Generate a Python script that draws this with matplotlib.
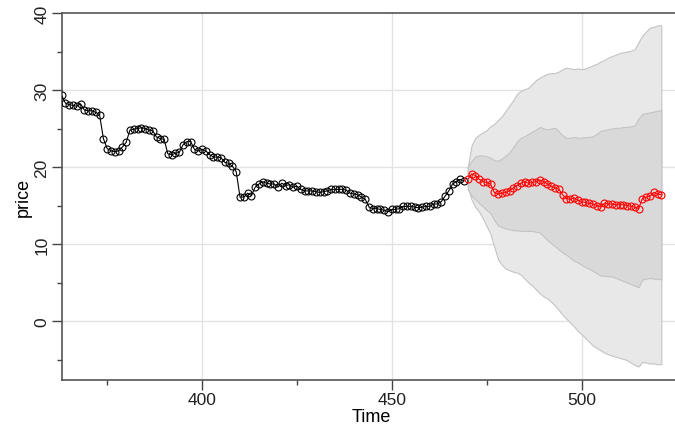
import numpy as np
import matplotlib
matplotlib.use("Agg")
import matplotlib.pyplot as plt

plt.rcParams['font.family'] = ['Liberation Sans', 'DejaVu Sans']

# observed series, t = 363 .. 469
obs_start = 363
obs = [29.3, 28.3, 28.1, 28.0, 27.9, 28.2, 27.4, 27.3, 27.3, 27.1,
       26.8, 23.7, 22.4, 22.1, 22.0, 22.1, 22.6, 23.2, 24.8, 24.9,
       25.0, 25.1, 25.0, 24.8, 24.7, 23.9, 23.7, 23.6, 21.7, 21.6,
       21.8, 21.9, 22.9, 23.3, 23.3, 22.3, 22.1, 22.3, 22.1, 21.6,
       21.3, 21.3, 21.2, 20.6, 20.5, 20.1, 19.4, 16.1, 16.1, 16.6,
       16.3, 17.4, 17.8, 18.1, 17.9, 17.8, 17.8, 17.4, 17.9, 17.6,
       17.7, 17.4, 17.5, 17.1, 16.9, 16.9, 16.9, 16.8, 16.7, 16.8,
       16.9, 17.1, 17.1, 17.1, 17.1, 17.0, 16.6, 16.5, 16.4, 16.1,
       15.8, 14.8, 14.6, 14.6, 14.5, 14.4, 14.2, 14.5, 14.5, 14.6,
       14.9, 14.9, 14.9, 14.8, 14.7, 14.8, 14.9, 14.9, 15.2, 15.2,
       15.5, 16.2, 16.9, 17.8, 18.1, 18.4, 18.2]

# forecast, t = 470 .. 521
fc_start = 470
fc = [18.4, 19.1, 18.9, 18.4, 18.1, 18.0, 17.8, 16.7, 16.5, 16.6,
      16.7, 16.9, 17.3, 17.6, 17.9, 18.1, 17.9, 18.0, 18.1, 18.3,
      18.1, 17.8, 17.5, 17.3, 17.1, 16.4, 15.9, 15.8, 16.0, 15.7,
      15.5, 15.4, 15.3, 15.2, 15.0, 14.8, 15.3, 15.2, 15.2, 15.1,
      15.1, 15.1, 15.0, 14.9, 14.8, 14.6, 15.9, 16.1, 16.2, 16.7,
      16.5, 16.4]

upper2 = [20.0, 22.8, 23.8, 24.2, 24.5, 24.8, 25.3, 25.6, 26.1, 26.6,
          27.3, 28.0, 28.7, 29.5, 29.9, 30.1, 30.3, 30.8, 31.3, 31.6,
          31.9, 32.1, 32.2, 32.2, 32.4, 32.7, 32.9, 32.8, 32.7, 32.8,
          32.7, 32.8, 33.0, 33.2, 33.4, 33.7, 33.9, 34.2, 34.4, 34.6,
          34.8, 34.9, 35.0, 35.1, 35.3, 36.2, 37.1, 37.6, 38.1, 38.2,
          38.4, 38.4]
upper1 = [20.0, 20.8, 21.4, 21.5, 21.5, 21.4, 21.2, 20.9, 20.8, 21.1,
          21.5, 21.9, 22.6, 23.3, 23.8, 24.0, 24.3, 24.6, 24.9, 25.2,
          25.0, 24.9, 25.0, 25.1, 24.6, 24.1, 23.8, 23.8, 23.9, 23.8,
          23.8, 23.9, 23.9, 24.0, 24.3, 24.7, 24.8, 24.9, 25.0, 25.1,
          25.1, 25.2, 25.2, 25.3, 25.4, 26.3, 26.9, 27.0, 27.1, 27.2,
          27.3, 27.4]
lower1 = [17.1, 16.3, 15.8, 15.3, 14.9, 14.4, 14.0, 13.1, 12.4, 12.2,
          12.0, 11.9, 11.8, 11.8, 11.7, 11.7, 11.7, 11.7, 11.6, 11.5,
          11.0, 10.5, 10.1, 9.7, 9.3, 8.9, 8.6, 8.2, 7.8, 7.6,
          7.3, 7.0, 6.8, 6.5, 6.2, 5.9, 5.9, 5.8, 5.8, 5.6,
          5.4, 5.2, 5.0, 4.8, 4.6, 4.4, 5.4, 5.5, 5.6, 5.5,
          5.5, 5.4]
lower2 = [17.4, 15.8, 14.8, 14.2, 13.3, 12.3, 11.3, 9.6, 8.0, 7.3,
          6.8, 6.6, 6.4, 6.3, 6.0, 5.5, 5.0, 4.6, 4.1, 3.6,
          3.2, 2.9, 2.5, 2.0, 1.4, 0.8, 0.3, -0.2, -0.7, -1.3,
          -1.7, -2.2, -2.7, -3.2, -3.5, -3.8, -4.1, -4.3, -4.5, -4.6,
          -4.8, -4.9, -5.1, -5.4, -5.7, -5.9, -5.3, -5.4, -5.5, -5.5,
          -5.6, -5.6]

t_obs = np.arange(obs_start, obs_start + len(obs))
t_fc = np.arange(fc_start, fc_start + len(fc))

fig = plt.figure(figsize=(6.75, 4.27), dpi=100)
ax = fig.add_axes([62 / 675, 46 / 427, 613 / 675, 367 / 427])

ax.set_xlim(363.1, 524.6)
ax.set_ylim(-7.65, 40)

for v in [400, 450, 500]:
    ax.axvline(v, color='#e3e3e3', lw=1, zorder=0)
for v in [0, 10, 20, 30]:
    ax.axhline(v, color='#e3e3e3', lw=1, zorder=0)

ax.fill_between(t_fc, lower2, upper2, facecolor='#e8e8e8', edgecolor='#c4c4c4', lw=0.8, zorder=1)
ax.fill_between(t_fc, lower1, upper1, facecolor='#d9d9d9', edgecolor='#c4c4c4', lw=0.8, zorder=2)

ax.plot(t_obs, obs, color='black', lw=0.8, marker='o', ms=5, mfc='none', mew=0.8, zorder=3)
ax.plot(t_fc, fc, color='red', lw=0.8, marker='o', ms=5, mfc='none', mew=0.8, zorder=4)

ax.set_xticks([400, 450, 500])
ax.set_xticks([375, 425, 475], minor=True)
ax.set_yticks([0, 10, 20, 30, 40])
ax.set_yticks([-5, 5, 15, 25, 35], minor=True)
ax.tick_params(which='major', length=7, width=1, color='#444444', labelsize=12.5,
               labelcolor='#222222', pad=2)
ax.tick_params(which='minor', length=3.5, width=1, color='#444444')
for lab in ax.get_yticklabels():
    lab.set_rotation(90)
    lab.set_va('center')

for side in ['left', 'bottom', 'top']:
    ax.spines[side].set_color('#555555')
    ax.spines[side].set_linewidth(1.2)
ax.spines['right'].set_visible(False)

ax.set_xlabel('Time', fontsize=13, va='center')
ax.xaxis.set_label_coords(0.504, -0.1)
ax.set_ylabel('price', fontsize=13, labelpad=2)

fig.savefig('out.png', dpi=100)
